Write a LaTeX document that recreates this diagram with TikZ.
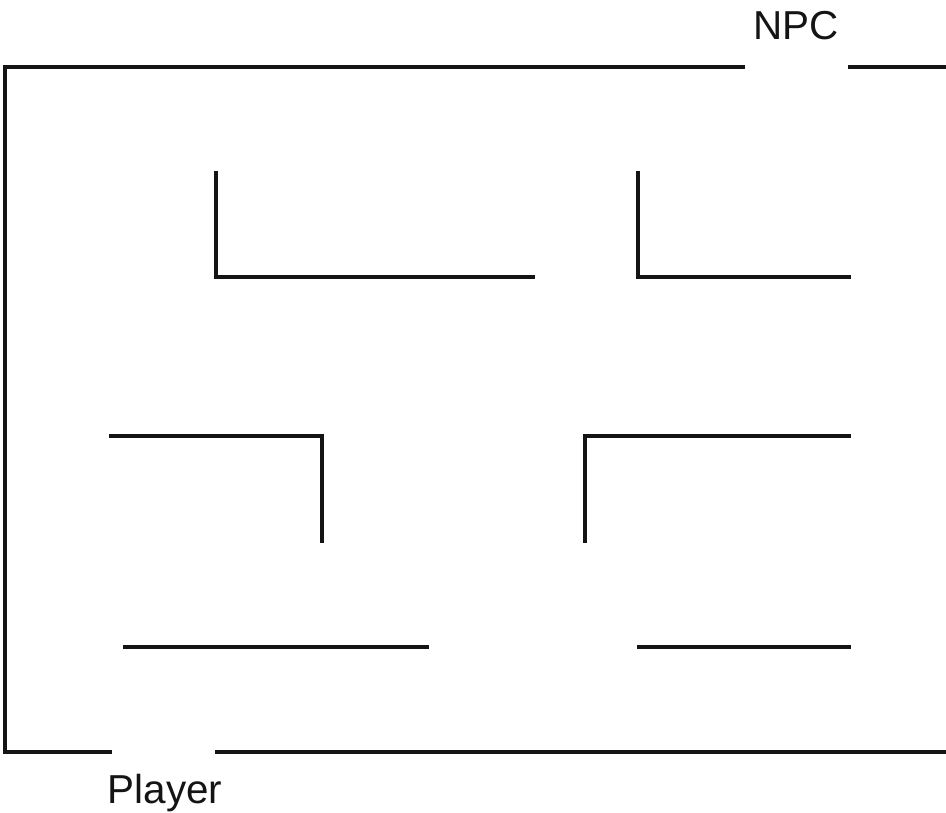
\documentclass[tikz,border=0pt]{standalone}
\usepackage{fontspec}
\setmainfont{Liberation Sans}
\begin{document}
\begin{tikzpicture}[
   x=0.02cm, y=-0.02cm,
   wall/.style={draw=black!92, line width=1.8pt, line cap=butt},
   lbl/.style={font=\fontsize{23}{27}\selectfont, text=black!92, inner sep=0pt}]
   \useasboundingbox (0,0) rectangle (946,812);
   % outer walls
   \draw[wall] (745,67) -- (5,67) -- (5,752) -- (112,752);
   \draw[wall] (848,67) -- (946,67);
   \draw[wall] (215,752) -- (946,752);
   % inner walls
   \draw[wall] (216,171) -- (216,277) -- (535,277);
   \draw[wall] (638,171) -- (638,277) -- (851,277);
   \draw[wall] (109,436) -- (322,436) -- (322,543);
   \draw[wall] (851,436) -- (585,436) -- (585,543);
   \draw[wall] (123,647) -- (429,647);
   \draw[wall] (637,647) -- (851,647);
   % labels
   \node[lbl] (npc) at (796,26) {NPC};
   \node[lbl] (player) at (165,793) {Player};
\end{tikzpicture}
\end{document}
